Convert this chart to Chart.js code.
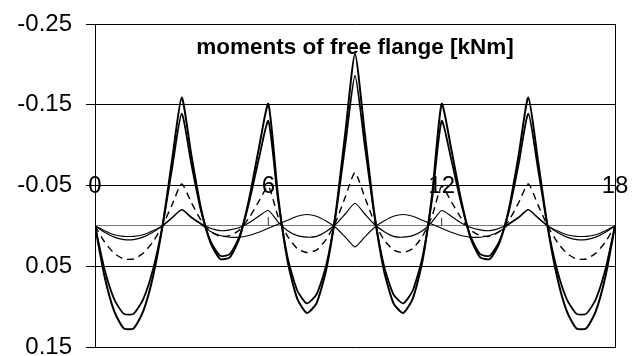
<!DOCTYPE html>
<html>
<head>
<meta charset="utf-8">
<script src="https://cdn.jsdelivr.net/npm/chart.js@4"></script>
<style>
  body { margin: 0; background: #fff; }
  #wrap { width: 641px; height: 356px; }
</style>
</head>
<body>
<div id="wrap"><canvas id="chart"></canvas></div>
<script>
// x positions along the beam (every 1/3)
const positions = [0, 0.333, 0.667, 1, 1.333, 1.667, 2, 2.333, 2.667, 3, 3.333, 3.667, 4, 4.333, 4.667, 5, 5.333, 5.667,
  6, 6.333, 6.667, 7, 7.333, 7.667, 8, 8.333, 8.667, 9, 9.333, 9.667, 10, 10.333, 10.667, 11, 11.333, 11.667,
  12, 12.333, 12.667, 13, 13.333, 13.667, 14, 14.333, 14.667, 15, 15.333, 15.667, 16, 16.333, 16.667, 17, 17.333, 17.667, 18];

const outerMoments = [0, 0.063, 0.106, 0.127, 0.127, 0.106, 0.064, 0.001, -0.081, -0.159, -0.088, -0.022, 0.021, 0.041, 0.039, 0.015, -0.033, -0.095,
  -0.151, -0.038, 0.044, 0.090, 0.108, 0.096, 0.055, -0.016, -0.116, -0.213, -0.116, -0.016, 0.055, 0.096, 0.108, 0.090, 0.044, -0.038,
  -0.151, -0.095, -0.033, 0.015, 0.039, 0.041, 0.021, -0.022, -0.088, -0.159, -0.081, 0.001, 0.064, 0.106, 0.127, 0.127, 0.106, 0.063, 0];
const innerMoments = [0, 0.054, 0.091, 0.109, 0.109, 0.091, 0.055, 0.001, -0.071, -0.139, -0.077, -0.019, 0.019, 0.037, 0.035, 0.013, -0.029, -0.082,
  -0.130, -0.033, 0.039, 0.080, 0.096, 0.085, 0.049, -0.014, -0.101, -0.186, -0.101, -0.014, 0.049, 0.085, 0.096, 0.080, 0.039, -0.033,
  -0.130, -0.082, -0.029, 0.013, 0.035, 0.037, 0.019, -0.019, -0.077, -0.139, -0.071, 0.001, 0.055, 0.091, 0.109, 0.109, 0.091, 0.054, 0];
const dashedMoments = [0, 0.020, 0.034, 0.041, 0.041, 0.034, 0.020, 0.000, -0.026, -0.052, -0.029, -0.007, 0.007, 0.013, 0.012, 0.005, -0.010, -0.030,
  -0.049, -0.012, 0.013, 0.028, 0.033, 0.030, 0.017, -0.005, -0.036, -0.066, -0.036, -0.005, 0.017, 0.030, 0.033, 0.028, 0.013, -0.012,
  -0.049, -0.030, -0.010, 0.005, 0.012, 0.013, 0.007, -0.007, -0.029, -0.052, -0.026, 0.000, 0.020, 0.034, 0.041, 0.041, 0.034, 0.020, 0];
const smallMoments = [0, 0.008, 0.014, 0.017, 0.017, 0.014, 0.008, 0.000, -0.010, -0.020, -0.011, -0.003, 0.003, 0.006, 0.005, 0.002, -0.004, -0.012,
  -0.019, -0.005, 0.006, 0.012, 0.014, 0.013, 0.007, -0.002, -0.015, -0.028, -0.015, -0.002, 0.007, 0.013, 0.014, 0.012, 0.006, -0.005,
  -0.019, -0.012, -0.004, 0.002, 0.005, 0.006, 0.003, -0.003, -0.011, -0.020, -0.010, 0.000, 0.008, 0.014, 0.017, 0.017, 0.014, 0.008, 0];
const waveMoments = [0, 0.006, 0.011, 0.013, 0.013, 0.011, 0.006, 0.000, -0.010, -0.020, -0.010, -0.002, 0.007, 0.012, 0.014, 0.014, 0.012, 0.008,
  0.003, -0.002, -0.007, -0.012, -0.014, -0.012, -0.006, 0.002, 0.014, 0.026, 0.014, 0.002, -0.006, -0.012, -0.014, -0.012, -0.007, -0.002,
  0.003, 0.008, 0.012, 0.014, 0.014, 0.012, 0.007, -0.002, -0.010, -0.020, -0.010, 0.000, 0.006, 0.011, 0.013, 0.013, 0.011, 0.006, 0];

// little vertical marks at x = 6 and x = 12
const markX = [6, 6, 9, 12, 12];
const markY = [0, -0.011, null, 0, -0.010];

const yTicks = [-0.25, -0.15, -0.05, 0.05, 0.15];
const xTicks = [0, 6, 12, 18];
const chartTitle = 'moments of free flange [kNm]';

function toPoints(xs, ys) {
    return xs.map(function(x, i) { return {x: x, y: ys[i]}; });
}

function lineSet(values, width, dash) {
    return {
        data: toPoints(positions, values),
        borderColor: '#000',
        borderWidth: width,
        borderDash: dash || [],
        pointRadius: 0,
        fill: false,
        tension: 0.2
    };
}

const font = {family: "'Liberation Sans', Arial, sans-serif", size: 24};

//title sits inside the plot area
const innerTitle = {
    id: 'innerTitle',
    afterDatasetsDraw: function(chart) {
        const ctx = chart.ctx;
        const area = chart.chartArea;
        ctx.save();
        ctx.font = "bold 22.5px 'Liberation Sans', Arial, sans-serif";
        ctx.fillStyle = '#000';
        ctx.textAlign = 'center';
        ctx.textBaseline = 'middle';
        ctx.fillText(chartTitle, (area.left + area.right) / 2, area.top + 24);
        ctx.restore();
    }
};

new Chart(document.getElementById('chart'), {
    type: 'line',
    data: {
        datasets: [
            lineSet(outerMoments, 2),
            lineSet(innerMoments, 1.8),
            lineSet(dashedMoments, 1.4, [7, 5]),
            lineSet(smallMoments, 1.2),
            lineSet(waveMoments, 1.1),
            {
                data: toPoints(markX, markY),
                borderColor: '#333',
                borderWidth: 1,
                pointRadius: 0,
                spanGaps: false
            }
        ]
    },
    options: {
        responsive: true,
        maintainAspectRatio: false,
        animation: false,
        layout: {padding: {left: 0, right: 26, top: 24, bottom: 9}},
        plugins: {legend: {display: false}, tooltip: {enabled: false}},
        scales: {
            x: {
                type: 'linear',
                min: 0,
                max: 18,
                position: {y: 0},
                afterBuildTicks: function(scale) {
                    scale.ticks = xTicks.map(function(v) { return {value: v}; });
                },
                ticks: {font: font, color: '#000', padding: -54, maxRotation: 0, autoSkip: false},
                grid: {display: false, drawTicks: false},
                border: {display: true, color: '#777', width: 1},
                afterFit: function(scale) {
                    scale.paddingLeft = 0; scale.paddingRight = 0;
                    scale.paddingTop = 0; scale.paddingBottom = 0;
                }
            },
            y: {
                type: 'linear',
                position: 'left',
                reverse: true,
                min: -0.25,
                max: 0.15,
                afterBuildTicks: function(scale) {
                    scale.ticks = yTicks.map(function(v) { return {value: v}; });
                },
                ticks: {
                    font: font,
                    color: '#000',
                    padding: 14,
                    callback: function(v) { return v.toFixed(2); }
                },
                grid: {color: '#000', lineWidth: 1, tickLength: 9, tickColor: '#000'},
                border: {display: true, color: '#000', width: 1},
                afterFit: function(scale) {
                    scale.width = 95;
                    scale.paddingTop = 0; scale.paddingBottom = 0;
                }
            },
            y2: {
                type: 'linear',
                position: 'right',
                min: 0,
                max: 1,
                ticks: {display: false},
                grid: {display: false, drawTicks: false},
                border: {display: true, color: '#000', width: 1},
                afterFit: function(scale) {
                    scale.width = 0;
                    scale.paddingTop = 0; scale.paddingBottom = 0;
                }
            }
        }
    },
    plugins: [innerTitle]
});
</script>
</body>
</html>
